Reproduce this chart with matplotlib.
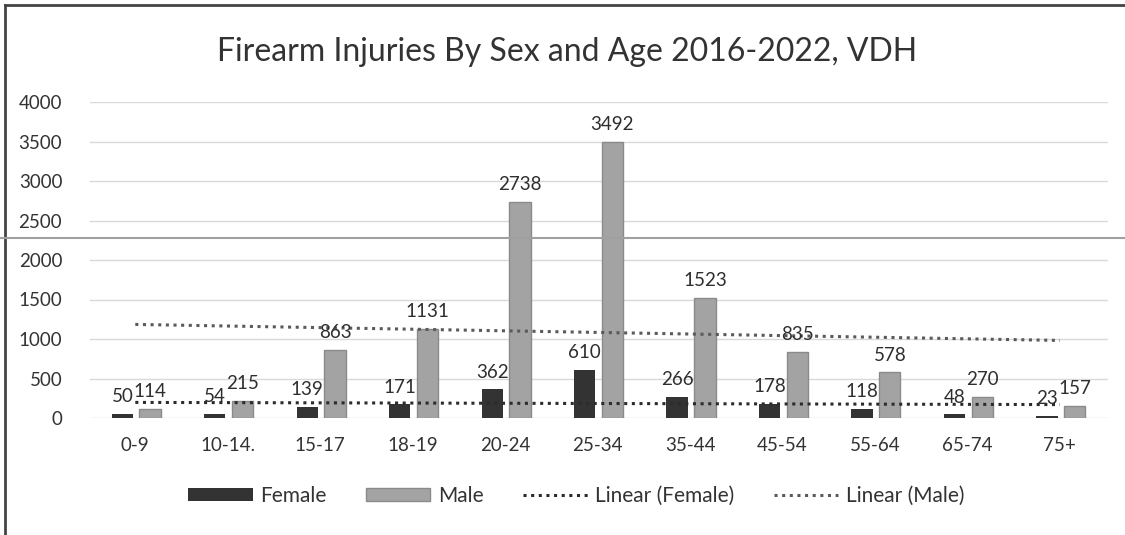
import matplotlib
matplotlib.use("Agg")
import matplotlib.pyplot as plt
from matplotlib.lines import Line2D
import numpy as np

# data
ages = ["0-9", "10-14.", "15-17", "18-19", "20-24", "25-34", "35-44", "45-54", "55-64", "65-74", "75+"]
female = [50, 54, 139, 171, 362, 610, 266, 178, 118, 48, 23]
male = [114, 215, 863, 1131, 2738, 3492, 1523, 835, 578, 270, 157]
yticks = [0, 500, 1000, 1500, 2000, 2500, 3000, 3500, 4000]

plt.rcParams['font.family'] = ['Lato', 'DejaVu Sans']

fig = plt.figure(figsize=(11.25, 5.35), dpi=100)
ax = fig.add_axes([90/1125, 117/535, 1018/1125, 316/535])

x = np.arange(len(ages))
w = 0.23
fc = "#333333"
mc = "#a3a3a3"

b1 = ax.bar(x - 0.14, female, w, color=fc, label="Female", zorder=2)
b2 = ax.bar(x + 0.16, male, w, color=mc, edgecolor="#8a8a8a", linewidth=1, label="Male", zorder=2)

# excel style linear trendlines
t = np.arange(1, len(ages) + 1)
pf = np.polyfit(t, female, 1)
pm = np.polyfit(t, male, 1)
dots = (0, (1, 1.5))
l1, = ax.plot(x, np.polyval(pf, t), linestyle=dots, color="#2b2b2b", lw=2.2,
              label="Linear (Female)", zorder=3)
l2, = ax.plot(x, np.polyval(pm, t), linestyle=dots, color="#5a5a5a", lw=2.2,
              label="Linear (Male)", zorder=3)

for i in range(len(ages)):
    ax.text(x[i] - 0.14, female[i] + 110, str(female[i]), ha="center", va="bottom",
            fontsize=13.5, color="#2e2e2e", zorder=4)
    ax.text(x[i] + 0.16, male[i] + 110, str(male[i]), ha="center", va="bottom",
            fontsize=13.5, color="#2e2e2e", zorder=4)

ax.set_xlim(-0.49, 10.52)
ax.set_ylim(0, 4000)
ax.set_yticks(yticks)
ax.set_xticks(x)
ax.set_xticklabels(ages)
ax.tick_params(axis="both", length=0, labelsize=13.5, labelcolor="#333333")
ax.tick_params(axis="x", pad=14)
ax.tick_params(axis="y", pad=20)
ax.grid(axis="y", color="#d9d9d9", lw=1, zorder=0)
for s in ax.spines.values():
    s.set_visible(False)

fig.text(567/1125, 1 - 52/535, "Firearm Injuries By Sex and Age 2016-2022, VDH",
         ha="center", va="center", fontsize=23, color="#333333")

leg = fig.legend([b1, b2, l1, l2], ["Female", "Male", "Linear (Female)", "Linear (Male)"],
                 loc="center", bbox_to_anchor=(576/1125, 1 - 496/535), ncol=4,
                 frameon=False, fontsize=15, handlelength=3.1, handleheight=0.55,
                 columnspacing=1.9, handletextpad=0.35)
for txt in leg.get_texts():
    txt.set_color("#333333")

# scan frame and stray line
fig.add_artist(Line2D([5/1125, 5/1125], [0, 1 - 5/535], transform=fig.transFigure,
                      color="#444444", lw=2))
fig.add_artist(Line2D([5/1125, 1], [1 - 5/535, 1 - 5/535], transform=fig.transFigure,
                      color="#444444", lw=2))
fig.add_artist(Line2D([0, 1], [1 - 238/535, 1 - 238/535], transform=fig.transFigure,
                      color="#a0a0a0", lw=1.5))

fig.savefig("out.png", dpi=100)
